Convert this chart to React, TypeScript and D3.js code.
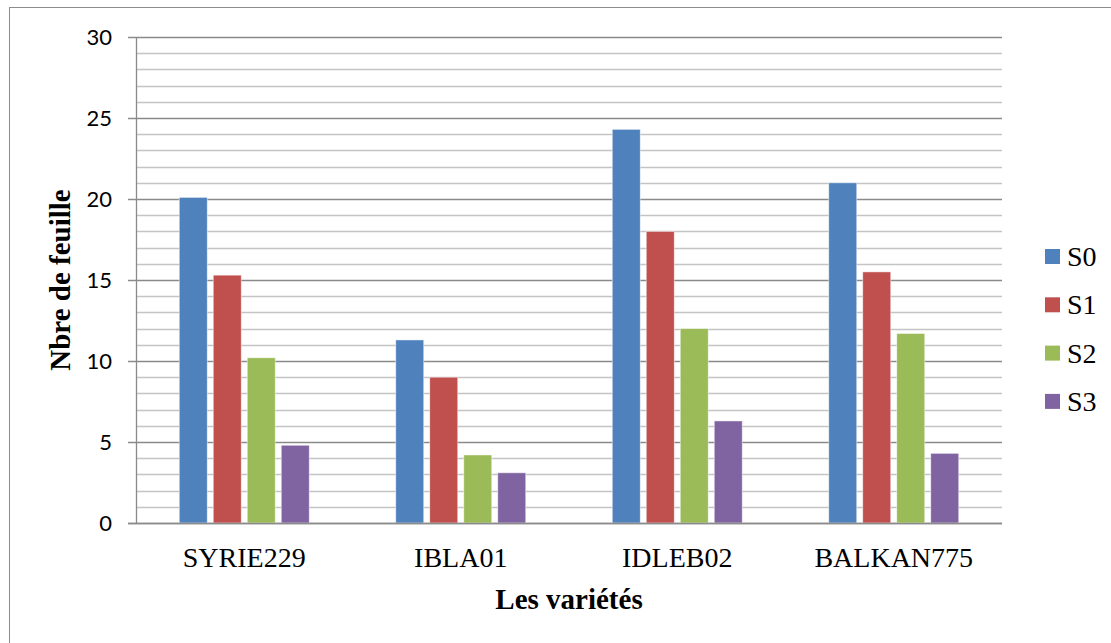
import React from "react";
import * as d3 from "d3";

const categories = ["SYRIE229", "IBLA01", "IDLEB02", "BALKAN775"];
const seriesNames = ["S0", "S1", "S2", "S3"];
const s0 = [20.1, 11.3, 24.3, 21.0];
const s1 = [15.3, 9.0, 18.0, 15.5];
const s2 = [10.2, 4.2, 12.0, 11.7];
const s3 = [4.8, 3.1, 6.3, 4.3];
const seriesValues = [s0, s1, s2, s3];
const yTicks = [0, 5, 10, 15, 20, 25, 30];
const colors = ["#4F81BD", "#C0504D", "#9BBB59", "#8064A2"];

const W = 1111;
const H = 643;
const plot = { left: 136, right: 1002, top: 37, bottom: 523 };

export default function App() {
  const x = d3
    .scaleBand<string>()
    .domain(categories)
    .range([plot.left, plot.right]);
  const y = d3.scaleLinear().domain([0, 30]).range([plot.bottom, plot.top]);
  const barW = 28;
  const barStep = 34;
  const inner = d3
    .scaleBand<string>()
    .domain(seriesNames)
    .range([0, barStep * 4])
    .paddingInner(0);
  const minor = d3.range(0, 31, 1).filter((v) => v % 5 !== 0);
  const serif = "'Liberation Serif', 'Times New Roman', serif";
  const sans = "Lato, 'Open Sans', sans-serif";

  return (
    <svg
      width={W}
      height={H}
      style={{ position: "absolute", left: 0, top: 0, background: "#fff" }}
    >
      <rect x={9.5} y={7.5} width={1110} height={640} fill="#fff" stroke="#8c8c8c" strokeWidth={1} />
      {minor.map((v) => (
        <line key={"m" + v} x1={plot.left} x2={plot.right} y1={Math.round(y(v)) + 0.5} y2={Math.round(y(v)) + 0.5} stroke="#c4c4c4" strokeWidth={1.3} />
      ))}
      {yTicks.map((v) => (
        <g key={"t" + v}>
          <line x1={plot.left - 8} x2={plot.right} y1={Math.round(y(v)) + 0.5} y2={Math.round(y(v)) + 0.5} stroke="#8a8a8a" strokeWidth={1.3} />
          <text x={112} y={y(v)} dy="0.36em" textAnchor="end" fontFamily={sans} fontSize={22} fill="#000">
            {v}
          </text>
        </g>
      ))}
      <line x1={plot.left + 0.5} x2={plot.left + 0.5} y1={plot.top} y2={plot.bottom} stroke="#8a8a8a" strokeWidth={1.3} />
      {categories.map((c, ci) => {
        const cx = (x(c) as number) + x.bandwidth() / 2;
        const start = cx - (barStep * 4 - (barStep - barW)) / 2;
        return (
          <g key={c}>
            {seriesNames.map((s, si) => (
              <rect
                key={s}
                x={start + (inner(s) as number)}
                y={y(seriesValues[si][ci])}
                width={barW}
                height={y(0) - y(seriesValues[si][ci])}
                fill={colors[si]}
                stroke="#ffffff"
                strokeOpacity={0.6}
                strokeWidth={0.8}
              />
            ))}
            <text x={cx} y={567} textAnchor="middle" fontFamily={serif} fontSize={28} fill="#000">
              {c}
            </text>
          </g>
        );
      })}
      <line x1={plot.left - 8} x2={plot.right} y1={plot.bottom + 0.5} y2={plot.bottom + 0.5} stroke="#8a8a8a" strokeWidth={1.5} />
      <text x={569} y={609} textAnchor="middle" fontFamily={serif} fontSize={29} fontWeight="bold" fill="#000">
        Les variétés
      </text>
      <text
        transform={`translate(70, 280) rotate(-90)`}
        textAnchor="middle"
        fontFamily={serif}
        fontSize={29}
        fontWeight="bold"
        fill="#000"
      >
        Nbre de feuille
      </text>
      {seriesNames.map((s, i) => (
        <g key={"l" + s} transform={`translate(1045, ${256.5 + i * 48.3})`}>
          <rect x={0} y={-7.5} width={15} height={15} fill={colors[i]} />
          <text x={22} y={9.5} fontFamily={serif} fontSize={28} fill="#000">
            {s}
          </text>
        </g>
      ))}
    </svg>
  );
}
